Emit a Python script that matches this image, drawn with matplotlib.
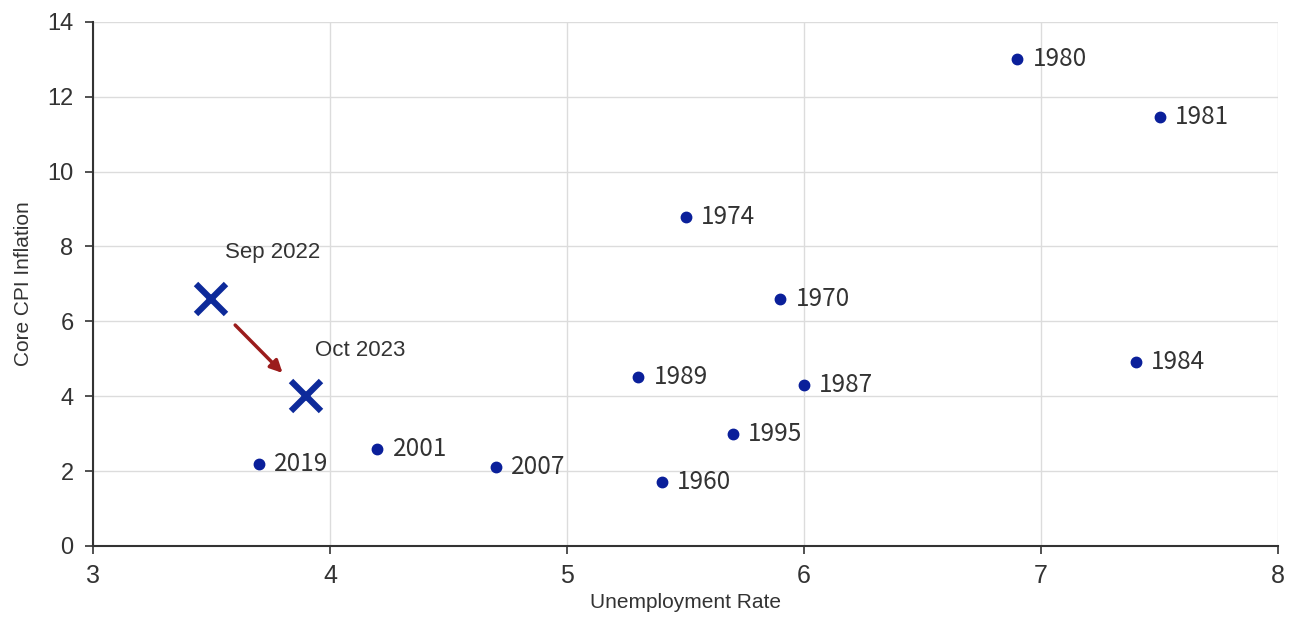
import matplotlib
matplotlib.use("Agg")
import matplotlib.pyplot as plt

years = ["1980", "1981", "1974", "1970", "1984", "1989", "1987", "1995", "1960", "2007", "2001", "2019"]
unemp = [6.9, 7.5, 5.5, 5.9, 7.4, 5.3, 6.0, 5.7, 5.4, 4.7, 4.2, 3.7]
core_cpi = [13.0, 11.45, 8.8, 6.6, 4.9, 4.5, 4.3, 3.0, 1.7, 2.1, 2.6, 2.2]

recent_labels = ["Sep 2022", "Oct 2023"]
recent_unemp = [3.5, 3.9]
recent_cpi = [6.6, 4.0]

xticks = [3, 4, 5, 6, 7, 8]
yticks = [0, 2, 4, 6, 8, 10, 12, 14]

tick_font = ["Liberation Sans", "DejaVu Sans"]
year_font = ["Noto Sans CJK KR", "DejaVu Sans"]

fig = plt.figure(figsize=(12.91, 6.26), dpi=100)
ax = fig.add_axes([0.072, 0.128, 0.918, 0.837])

ax.set_xlim(3, 8)
ax.set_ylim(0, 14)
ax.set_xticks(xticks)
ax.set_yticks(yticks)
ax.grid(True, color="#dcdcdc", linewidth=1.0)
ax.set_axisbelow(True)
for s in ["top", "right"]:
    ax.spines[s].set_visible(False)
for s in ["left", "bottom"]:
    ax.spines[s].set_color("#333333")
    ax.spines[s].set_linewidth(1.5)
ax.tick_params(direction="out", length=6, width=1.2, color="#333333",
               labelcolor="#333333")
ax.tick_params(axis="x", labelsize=18, pad=7)
ax.tick_params(axis="y", labelsize=17, pad=8)
for lab in ax.get_xticklabels() + ax.get_yticklabels():
    lab.set_family(tick_font)

ax.set_xlabel("Unemployment Rate", fontsize=15, family=tick_font, color="#333333", labelpad=4)
ax.set_ylabel("Core CPI Inflation", fontsize=15, family=tick_font, color="#333333", labelpad=10)

ax.plot(unemp, core_cpi, "o", color="#0a1f9a", markersize=7.5, linestyle="none", zorder=3)
for yr, x, y in zip(years, unemp, core_cpi):
    ax.annotate(yr, (x, y), xytext=(11, 0), textcoords="offset points",
                va="center", ha="left", fontsize=17.5, color="#333333", family=year_font)

ax.plot(recent_unemp, recent_cpi, "x", color="#0d2a9a", markersize=22, mew=4.5,
        linestyle="none", zorder=4)
ax.annotate(recent_labels[0], (recent_unemp[0], recent_cpi[0]), xytext=(10, 26),
            textcoords="offset points", ha="left", va="bottom", fontsize=16,
            color="#333333", family=tick_font)
ax.annotate(recent_labels[1], (recent_unemp[1], recent_cpi[1]), xytext=(6, 25),
            textcoords="offset points", ha="left", va="bottom", fontsize=16,
            color="#333333", family=tick_font)

ax.annotate("", xy=(3.80, 4.62), xytext=(3.60, 5.9),
            arrowprops=dict(arrowstyle="-|>", color="#9b1c1c", lw=2.5,
                            mutation_scale=18, shrinkA=0, shrinkB=0))

fig.savefig("out.png", dpi=100)
